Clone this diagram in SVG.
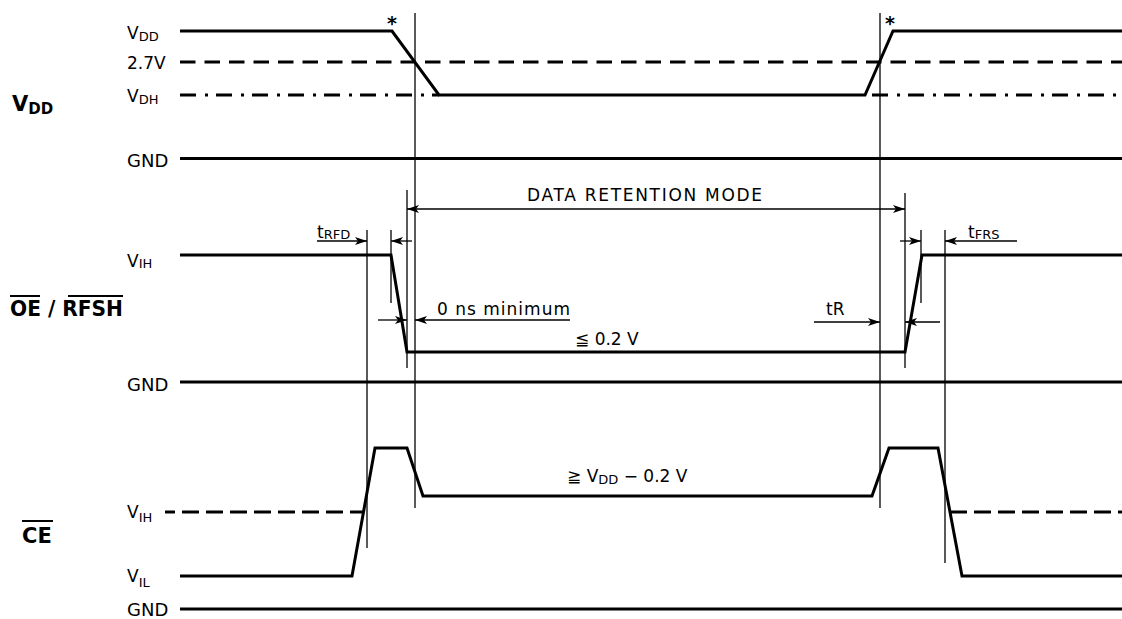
<svg xmlns="http://www.w3.org/2000/svg" width="1122" height="619" viewBox="0 0 1122 619">
<style>
text{font-family:"DejaVu Sans","Noto Sans CJK JP",sans-serif;fill:#000}
.lbl{font-size:17px}
.sub{font-size:13px}
.gnd{font-size:18px}
.big{font-size:21px;font-weight:bold}
.bigsub{font-size:15px;font-weight:bold}
.note{font-size:17px}
.ast{font-size:19px;font-weight:bold}
.sig{fill:none;stroke:#000;stroke-width:3;stroke-linejoin:miter}
.dash{fill:none;stroke:#000;stroke-width:3;stroke-dasharray:15.5 9}
.dashce{fill:none;stroke:#000;stroke-width:3;stroke-dasharray:17 7}
.dashdot{fill:none;stroke:#000;stroke-width:3;stroke-dasharray:16 9 3 8}
.thin{fill:none;stroke:#000;stroke-width:1.3}
.arr{fill:none;stroke:#000;stroke-width:1.3;marker-end:url(#ah)}
.arr2{fill:none;stroke:#000;stroke-width:1.3;marker-start:url(#ah);marker-end:url(#ah)}
.ovl{stroke:#000;stroke-width:2}
</style>
<defs>
<marker id="ah" markerUnits="userSpaceOnUse" markerWidth="12" markerHeight="8" refX="12" refY="4" orient="auto-start-reverse" viewBox="0 0 12 8">
<path d="M0,0 L12,4 L0,8 L3,4 Z" fill="#000"/>
</marker>
</defs>
<rect width="1122" height="619" fill="#fff"/>

<g id="sig-vdd">
<text class="big" x="12" y="111">V<tspan class="bigsub" dy="3">DD</tspan></text>
<text class="lbl" x="127" y="39">V<tspan class="sub" dy="1.5">DD</tspan></text>
<text class="lbl" x="127" y="69">2.7V</text>
<text class="lbl" x="127" y="102">V<tspan class="sub" dy="1.5">DH</tspan></text>
<text class="gnd" x="127" y="167">GND</text>
<polyline class="sig" points="180,31 392,31 439,95 865,95 893,31 1122,31"/>
<line class="dash" x1="180" y1="62" x2="1122" y2="62"/>
<line class="dashdot" x1="180" y1="95" x2="439" y2="95"/>
<line class="dashdot" x1="872" y1="95" x2="1122" y2="95"/>
<line class="sig" x1="180" y1="158.5" x2="1122" y2="158.5"/>
<text class="ast" x="387" y="30">*</text>
<text class="ast" x="885" y="30">*</text>
</g>

<g id="sig-oe">
<text class="big" x="10" y="316" textLength="113" lengthAdjust="spacingAndGlyphs">OE / RFSH</text>
<line class="ovl" x1="10" y1="296" x2="40" y2="296"/>
<line class="ovl" x1="68" y1="296" x2="123" y2="296"/>
<text class="lbl" x="127" y="267">V<tspan class="sub" dy="1">IH</tspan></text>
<text class="gnd" x="127" y="391">GND</text>
<polyline class="sig" points="180,255 391,255 407,352 905,352 922,255 1122,255"/>
<line class="sig" x1="180" y1="382" x2="1122" y2="382"/>
</g>

<g id="sig-ce">
<text class="big" x="22" y="543">CE</text>
<line class="ovl" x1="22" y1="521" x2="53" y2="521"/>
<text class="lbl" x="127" y="518">V<tspan class="sub" dy="4">IH</tspan></text>
<text class="lbl" x="127" y="582">V<tspan class="sub" dy="5">IL</tspan></text>
<text class="gnd" x="127" y="616">GND</text>
<line class="dashce" x1="165" y1="512" x2="364" y2="512" stroke-dashoffset="7"/>
<line class="dashce" x1="950" y1="512" x2="1122" y2="512"/>
<polyline class="sig" points="180,576 352,576 375,448 407,448 423,496 872,496 889,448 938,448 962,576 1122,576"/>
<line class="sig" x1="180" y1="609" x2="1122" y2="609"/>
</g>

<g id="connectors">
<line class="thin" x1="415" y1="13" x2="415" y2="508"/>
<line class="thin" x1="880" y1="13" x2="880" y2="508"/>
<line class="thin" x1="407" y1="190" x2="407" y2="368"/>
<line class="thin" x1="905" y1="193" x2="905" y2="368"/>
<line class="thin" x1="367" y1="230" x2="367" y2="548"/>
<line class="thin" x1="945" y1="230" x2="945" y2="563"/>
<line class="thin" x1="391" y1="230" x2="391" y2="303"/>
<line class="thin" x1="921" y1="230" x2="921" y2="303"/>
<line class="arr2" x1="407" y1="209" x2="905" y2="209"/>
<line class="arr" x1="317" y1="241" x2="367" y2="241"/>
<line class="arr" x1="412" y1="241" x2="391" y2="241"/>
<line class="arr" x1="900" y1="241" x2="921" y2="241"/>
<line class="arr" x1="1017" y1="241" x2="945" y2="241"/>
<line class="arr" x1="378" y1="320" x2="407" y2="320"/>
<line class="arr" x1="570" y1="320" x2="415" y2="320"/>
<line class="arr" x1="814" y1="322" x2="880" y2="322"/>
<line class="arr" x1="940" y1="322" x2="905" y2="322"/>
</g>

<g id="annotations">
<text class="note" x="527" y="201" font-size="18" textLength="235" lengthAdjust="spacing">DATA  RETENTION  MODE</text>
<text class="note" x="317" y="238">t<tspan class="sub" font-size="13" dy="1">RFD</tspan></text>
<text class="note" x="968" y="238">t<tspan class="sub" font-size="13" dy="1">FRS</tspan></text>
<text class="note" x="437" y="315" textLength="133" lengthAdjust="spacing">0 ns  minimum</text>
<text class="note" x="826" y="315">tR</text>
<text class="note" x="575" y="345">≦ 0.2 V</text>
<text class="note" x="567" y="482">≧ V<tspan class="sub" font-size="13" dy="2">DD</tspan><tspan dy="-2"> − 0.2 V</tspan></text>
</g>
</svg>
